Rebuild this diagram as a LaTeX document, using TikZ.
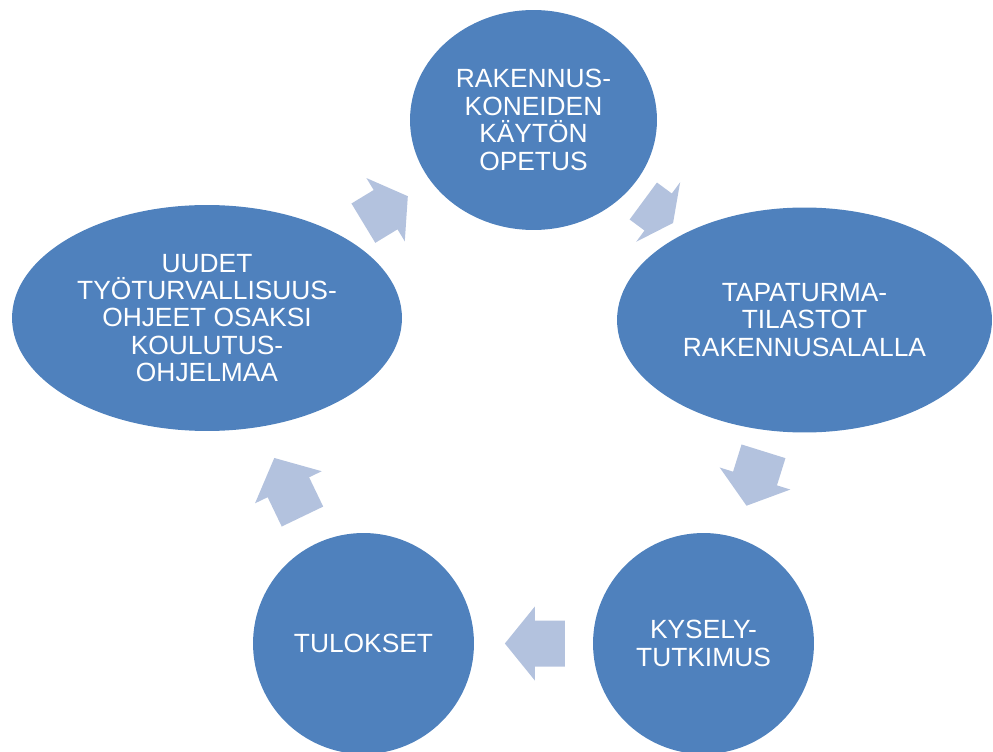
\documentclass[tikz,border=0pt]{standalone}
\usepackage{fontspec}
\setmainfont{Liberation Sans}
\usetikzlibrary{shapes.geometric,calc}
\definecolor{sininen}{HTML}{4F81BD}
\definecolor{vaalea}{HTML}{B3C2DE}

\begin{document}
\begin{tikzpicture}[x=0.02cm,y=0.02cm,
  pallo/.style={ellipse,fill=sininen,text=white,align=center,inner sep=0pt,
    font=\fontsize{15}{15.6}\selectfont},
  nuoli/.style={fill=vaalea}]
  \useasboundingbox (0,0) rectangle (993,751);
  % vaiheet
  \node[pallo,minimum width=4.94cm,minimum height=4.4cm] (opetus) at (533.5,631)
    {RAKENNUS-\\KONEIDEN\\KÄYTÖN\\OPETUS};
  \node[pallo,minimum width=7.5cm,minimum height=4.5cm] (tilastot) at (804.5,431)
    {TAPATURMA-\\TILASTOT\\RAKENNUSALALLA};
  \node[pallo,minimum width=4.42cm,minimum height=4.42cm] (kysely) at (703.5,107.5)
    {KYSELY-\\TUTKIMUS};
  \node[pallo,minimum width=4.42cm,minimum height=4.42cm] (tulokset) at (363.5,107.5)
    {TULOKSET};
  \node[pallo,minimum width=7.8cm,minimum height=4.52cm] (ohjeet) at (207,433)
    {UUDET\\TYÖTURVALLISUUS-\\OHJEET OSAKSI\\KOULUTUS-\\OHJELMAA};
  % nuolet vaiheiden valiin
  \foreach \alku/\loppu/\osa/\pit in {ohjeet/opetus/0.547/52, opetus/tilastot/0.46/37,
      tilastot/kysely/0.49/57, kysely/tulokset/0.496/60, tulokset/ohjeet/0.48/65}{
    \pgfmathanglebetweenpoints{\pgfpointanchor{\alku}{center}}{\pgfpointanchor{\loppu}{center}}
    \let\kulma\pgfmathresult
    \fill[nuoli,shift={($(\alku)!\osa!(\loppu)$)},rotate=\kulma]
      (-\pit/2,-23) -- (0,-23) -- (0,-37) -- (\pit/2,0) -- (0,37) -- (0,23) -- (-\pit/2,23) -- cycle;
  }
\end{tikzpicture}
\end{document}
